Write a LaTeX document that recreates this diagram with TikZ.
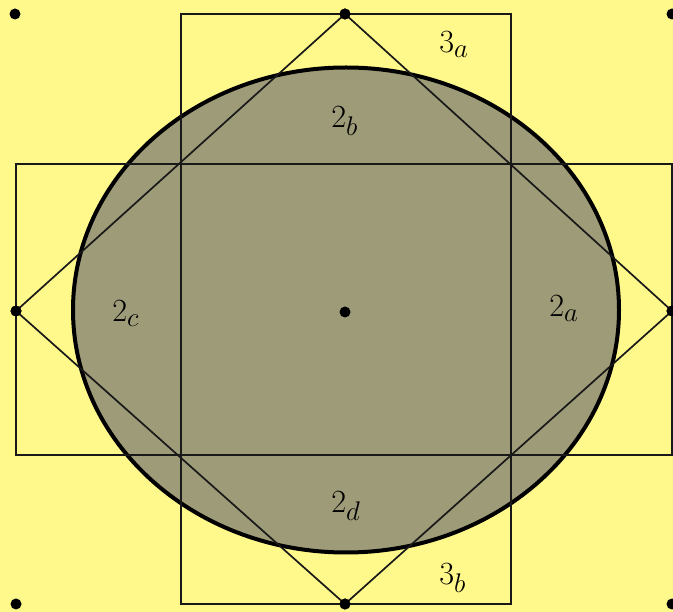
\documentclass[tikz,border=0pt]{standalone}
\begin{document}
\begin{tikzpicture}[x=1pt,y=-1pt,
  dot/.style={circle,fill=black,inner sep=0pt,minimum size=11pt},
  thinline/.style={draw=black!90,line width=1.7pt},
  lab/.style={anchor=base west,inner sep=0pt,font=\Huge,scale=1.3}]
\definecolor{bgyellow}{RGB}{255,249,140}
\definecolor{ellfill}{RGB}{158,155,120}
\fill[bgyellow] (0,0) rectangle (673,612);
\useasboundingbox (0,0) rectangle (673,612);
% ellipse
\fill[ellfill] (346,310) ellipse [x radius=273, y radius=242.5];
\draw[line width=4pt] (346,310) ellipse [x radius=273, y radius=242.5];
% dots
\node[dot] (tl) at (15,14) {};
\node[dot] (tr) at (672,14) {};
\node[dot] (bl) at (16,604) {};
\node[dot] (br) at (672,604) {};
\node[dot] (top) at (345,14) {};
\node[dot] (bot) at (345,604) {};
\node[dot] (lft) at (16,311) {};
\node[dot] (rgt) at (672,311) {};
\node[dot] (ctr) at (345,312) {};
% rectangle corners
\coordinate (v1) at (181,14);
\coordinate (v2) at (511,14);
\coordinate (v3) at (511,604);
\coordinate (v4) at (181,604);
\coordinate (h1) at (16,164);
\coordinate (h2) at (672,164);
\coordinate (h3) at (672,455);
\coordinate (h4) at (16,455);
\draw[thinline] (v1) -- (v2) -- (v3) -- (v4) -- cycle;
\draw[thinline] (h1) -- (h2) -- (h3) -- (h4) -- cycle;
% diamond
\draw[thinline] (top.center) -- (rgt.center) -- (bot.center) -- (lft.center) -- cycle;
% dots on top again
\node[dot] at (top) {};
\node[dot] at (bot) {};
\node[dot] at (lft) {};
\node[dot] at (rgt) {};
% labels
\node[lab] (l3a) at (439,53) {$3_a$};
\node[lab] (l2b) at (331,128) {$2_b$};
\node[lab] (l2c) at (112,322) {$2_c$};
\node[lab] (l2a) at (549,317) {$2_a$};
\node[lab] (l2d) at (331,513) {$2_d$};
\node[lab] (l3b) at (439,585) {$3_b$};
\end{tikzpicture}
\end{document}
